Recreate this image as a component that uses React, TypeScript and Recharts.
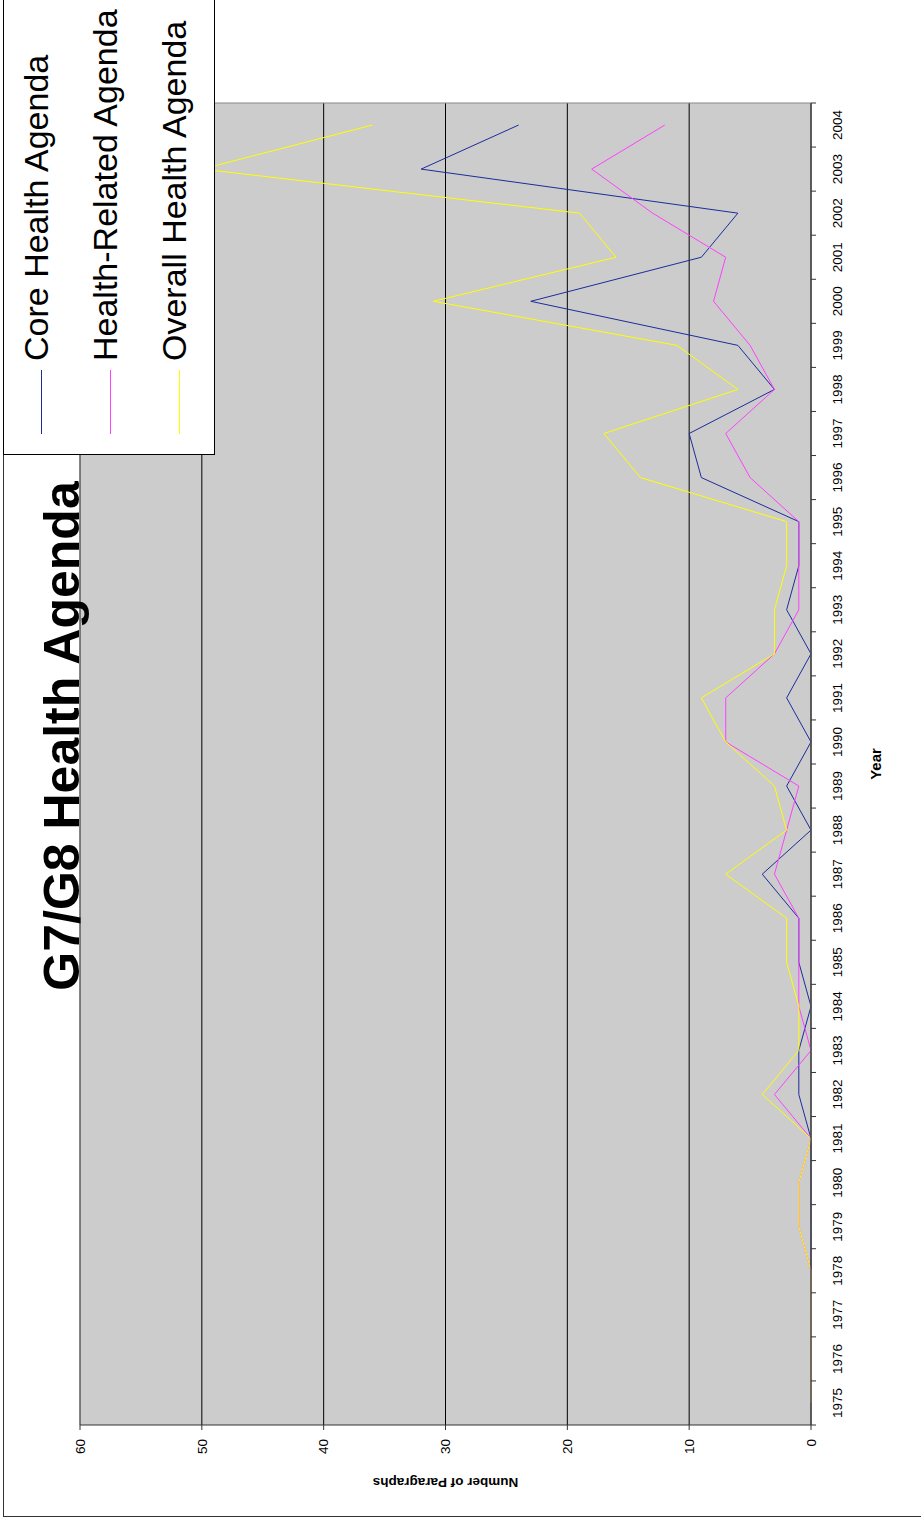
import React from 'react'
import {
  LineChart, Line, XAxis, YAxis, CartesianGrid, Legend, ReferenceLine
} from 'recharts'

// G7/G8 summit paragraphs on health, by year
const years = [
  1975, 1976, 1977, 1978, 1979, 1980, 1981, 1982, 1983, 1984,
  1985, 1986, 1987, 1988, 1989, 1990, 1991, 1992, 1993, 1994,
  1995, 1996, 1997, 1998, 1999, 2000, 2001, 2002, 2003, 2004
]
const coreHealth = [
  0, 0, 0, 0, 0, 0, 0, 1, 1, 0,
  1, 1, 4, 0, 2, 0, 2, 0, 2, 1,
  1, 9, 10, 3, 6, 23, 9, 6, 32, 24
]
const healthRelated = [
  0, 0, 0, 0, 1, 1, 0, 3, 0, 1,
  1, 1, 3, 2, 1, 7, 7, 3, 1, 1,
  1, 5, 7, 3, 5, 8, 7, 13, 18, 12
]
const overallHealth = [
  0, 0, 0, 0, 1, 1, 0, 4, 1, 1,
  2, 2, 7, 2, 3, 7, 9, 3, 3, 2,
  2, 14, 17, 6, 11, 31, 16, 19, 50, 36
]
const valueTicks = [0, 10, 20, 30, 40, 50, 60]

const data = years.map((year, i) => ({
  year,
  core: coreHealth[i],
  related: healthRelated[i],
  overall: overallHealth[i]
}))

// the chart is drawn landscape and turned a quarter turn
const W = 1520
const H = 921
const PLOT_LEFT = 95
const PLOT_RIGHT = 1417
const PLOT_TOP = 80
const PLOT_BOTTOM = 811
const BAND = (PLOT_RIGHT - PLOT_LEFT) / years.length
const FONT = '"Liberation Sans", Arial, sans-serif'

const YearTick = (props: any) => {
  const { x, y, payload, index } = props
  return (
    <g>
      <line x1={x - BAND / 2} x2={x - BAND / 2} y1={y} y2={y + 5} stroke="#333" />
      {index === years.length - 1 && (
        <line x1={x + BAND / 2} x2={x + BAND / 2} y1={y} y2={y + 5} stroke="#333" />
      )}
      <text x={x} y={y + 21} dy="0.71em" textAnchor="middle" fontSize={13.5} fill="#000" fontFamily={FONT}>
        {payload.value}
      </text>
    </g>
  )
}

const LegendBox = (props: any) => {
  const { payload = [] } = props
  return (
    <div style={{
      position: 'relative', width: 470, height: 212, background: '#fff',
      border: '1px solid #000', boxSizing: 'border-box', fontFamily: FONT
    }}>
      {payload.map((entry: any, i: number) => (
        <React.Fragment key={entry.value}>
          <div style={{
            position: 'absolute', left: 20, top: 37 + i * 69, width: 64, height: 1,
            background: entry.color
          }} />
          <div style={{
            position: 'absolute', left: 93, top: 15 + i * 69, fontSize: 34,
            lineHeight: '34px', whiteSpace: 'nowrap', color: '#000'
          }}>
            {entry.value}
          </div>
        </React.Fragment>
      ))}
    </div>
  )
}

const App: React.FC = () => {
  return (
    <div style={{ position: 'absolute', left: 0, top: 0, width: H, height: W, overflow: 'hidden', background: '#fff' }}>
      <div style={{
        position: 'absolute', left: 0, top: 0, width: W, height: H,
        transformOrigin: '0 0', transform: `translate(0px, ${W}px) rotate(-90deg)`,
        fontFamily: FONT
      }}>
        <div style={{
          position: 'absolute', left: 3, top: 3, width: W + 20, height: H - 2,
          border: '1px solid #333', boxSizing: 'border-box'
        }} />
        <LineChart
          width={W}
          height={H}
          data={data}
          margin={{ top: PLOT_TOP, right: W - PLOT_RIGHT, bottom: 0, left: 0 }}
          style={{ position: 'absolute', left: 0, top: 0 }}
        >
          <CartesianGrid
            vertical={false}
            stroke="#000"
            fill="#cccccc"
            fillOpacity={1}
          />
          <XAxis
            dataKey="year"
            type="number"
            domain={[years[0] - 0.5, years[years.length - 1] + 0.5]}
            ticks={years}
            interval={0}
            height={H - PLOT_BOTTOM}
            tickSize={0}
            tickMargin={0}
            tickLine={false}
            tick={<YearTick />}
            axisLine={{ stroke: '#555', strokeWidth: 1.5 }}
            label={({ viewBox }: any) => (
              <text
                x={viewBox.x + viewBox.width / 2}
                y={viewBox.y + 64}
                textAnchor="middle"
                dominantBaseline="central"
                fontSize={15}
                fontWeight="bold"
                fontFamily={FONT}
                fill="#000"
              >
                Year
              </text>
            )}
          />
          <YAxis
            domain={[0, 60]}
            ticks={valueTicks}
            interval={0}
            width={PLOT_LEFT}
            tickSize={5}
            tickMargin={9}
            tick={{ fontSize: 13.5, fill: '#000', fontFamily: FONT }}
            tickLine={{ stroke: '#333' }}
            axisLine={{ stroke: '#333' }}
            label={({ viewBox }: any) => {
              const cx = viewBox.x + 38
              const cy = viewBox.y + viewBox.height / 2
              return (
                <text
                  x={cx}
                  y={cy}
                  transform={`rotate(-90 ${cx} ${cy})`}
                  textAnchor="middle"
                  dominantBaseline="central"
                  fontSize={13.5}
                  fontWeight="bold"
                  fontFamily={FONT}
                  fill="#000"
                >
                  Number of Paragraphs
                </text>
              )
            }}
          />
          <ReferenceLine y={60} stroke="#888" />
          <ReferenceLine x={years[years.length - 1] + 0.5} stroke="#888" />
          <Legend
            layout="horizontal"
            verticalAlign="middle"
            align="center"
            content={<LegendBox />}
            wrapperStyle={{ position: 'absolute', left: 1065, top: 3, width: 470, height: 212 }}
          />
          <Line
            type="linear"
            dataKey="core"
            name="Core Health Agenda"
            stroke="#1c2c9c"
            strokeWidth={1}
            dot={false}
            activeDot={false}
            isAnimationActive={false}
          />
          <Line
            type="linear"
            dataKey="related"
            name="Health-Related Agenda"
            stroke="#ff40ff"
            strokeWidth={1}
            dot={false}
            activeDot={false}
            isAnimationActive={false}
          />
          <Line
            type="linear"
            dataKey="overall"
            name="Overall Health Agenda"
            stroke="#ffff00"
            strokeWidth={1}
            dot={false}
            activeDot={false}
            isAnimationActive={false}
          />
        </LineChart>
        <svg width={W} height={H} style={{ position: 'absolute', left: 0, top: 0, pointerEvents: 'none' }}>
          <text x={784} y={79} textAnchor="middle" fontSize={50} fontWeight="bold" fontFamily={FONT} fill="#000">
            G7/G8 Health Agenda
          </text>
        </svg>
      </div>
    </div>
  )
}

export default App
